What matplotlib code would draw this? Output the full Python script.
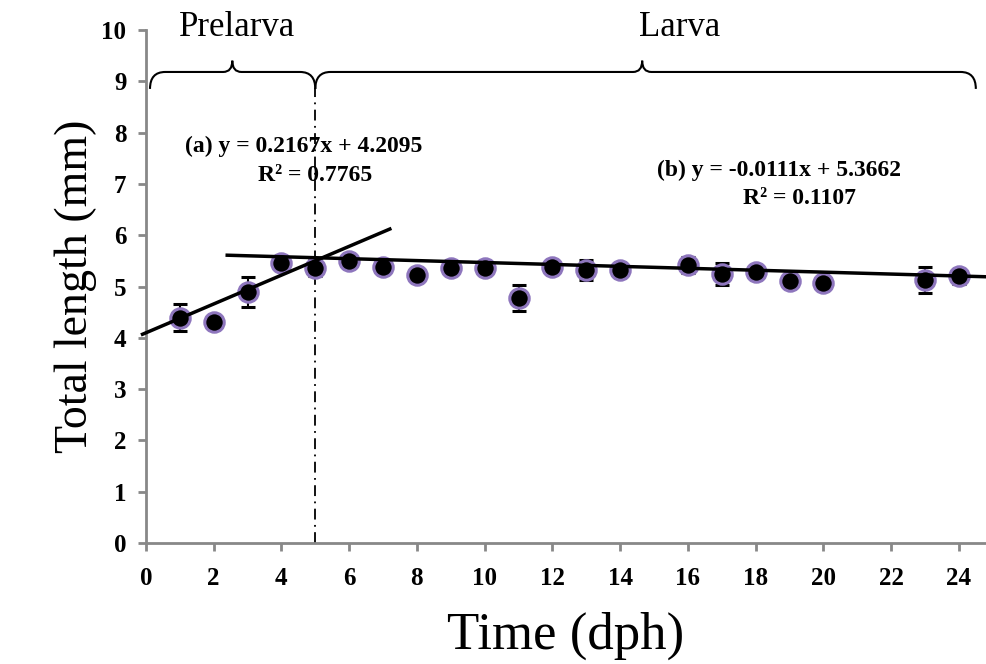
import numpy as np
import matplotlib.pyplot as plt
from matplotlib.path import Path
from matplotlib.patches import PathPatch

# mean total length per day (dph)
days = [1, 2, 3, 4, 5, 6, 7, 8, 9, 10, 11, 12, 13, 14, 16, 17, 18, 19, 20, 23, 24]
length = [4.39, 4.31, 4.89, 5.46, 5.36, 5.50, 5.38, 5.22, 5.36, 5.36, 4.78,
          5.38, 5.32, 5.32, 5.42, 5.24, 5.28, 5.10, 5.07, 5.13, 5.20]
err = [0.26, 0.0, 0.29, 0.05, 0.15, 0.05, 0.05, 0.0, 0.05, 0.05, 0.25,
       0.05, 0.2, 0.05, 0.15, 0.22, 0.12, 0.0, 0.0, 0.25, 0.15]

# trend lines as drawn (end points)
line_a_x = [-0.1, 7.2]
line_a_y = [4.07, 6.12]
line_b_x = [2.4, 24.8]
line_b_y = [5.61, 5.19]

eq_a = ["(a) y = 0.2167x + 4.2095", "R² = 0.7765"]
eq_b = ["(b) y = -0.0111x + 5.3662", "R² = 0.1107"]

plt.rcParams['font.family'] = ['Liberation Serif', 'DejaVu Serif']

fig = plt.figure(figsize=(9.86, 6.64), dpi=100)
ax = fig.add_axes([0.148, 0.182, 0.852, 0.773])

ax.errorbar(days, length, yerr=err, fmt='o', color='black', ecolor='black',
            elinewidth=1.5, capsize=5, capthick=1.5, markersize=14,
            markerfacecolor='black', markeredgecolor='#8e76bd',
            markeredgewidth=2.2, zorder=3)

ax.plot(line_a_x, line_a_y, color='black', lw=2.5, zorder=4, clip_on=False)
ax.plot(line_b_x, line_b_y, color='black', lw=2.5, zorder=4, clip_on=False)

# stage boundary
ax.plot([5, 5], [0, 8.87], color='black', lw=1.3, linestyle=(0, (6, 3, 1, 3)))


def brace(x0, x1, xm, ybase=9.18, yend=8.85, ytip=9.4, r=0.45):
    verts = [(x0, yend), (x0, ybase), (x0 + r, ybase),
             (xm - r * 0.6, ybase),
             (xm, ybase), (xm, ytip),
             (xm, ybase), (xm + r * 0.6, ybase),
             (x1 - r, ybase),
             (x1, ybase), (x1, yend)]
    codes = [Path.MOVETO, Path.CURVE3, Path.CURVE3,
             Path.LINETO,
             Path.CURVE3, Path.CURVE3,
             Path.CURVE3, Path.CURVE3,
             Path.LINETO,
             Path.CURVE3, Path.CURVE3]
    ax.add_patch(PathPatch(Path(verts, codes), fill=False, lw=1.5,
                           edgecolor='black', clip_on=False))


brace(0.12, 5.0, 2.55)
brace(5.0, 24.5, 14.65)

ax.text(2.7, 10.05, "Prelarva", ha='center', va='center', fontsize=25)
ax.text(15.75, 10.05, "Larva", ha='center', va='center', fontsize=25)

ax.text(4.65, 7.73, eq_a[0], ha='center', va='center', fontsize=17, fontweight='bold')
ax.text(5.0, 7.16, eq_a[1], ha='center', va='center', fontsize=17, fontweight='bold')
ax.text(18.7, 7.26, eq_b[0], ha='center', va='center', fontsize=17, fontweight='bold')
ax.text(19.3, 6.72, eq_b[1], ha='center', va='center', fontsize=17, fontweight='bold')

ax.set_xlim(0, 24.8)
ax.set_ylim(0, 10)
ax.set_xticks(np.arange(0, 25, 2))
ax.set_yticks(np.arange(0, 11, 1))
ax.tick_params(axis='both', colors='#888888', width=2, length=6, direction='out',
               labelcolor='black', labelsize=18)
ax.tick_params(axis='x', pad=11)
ax.tick_params(axis='y', pad=8)
for lab in ax.get_xticklabels() + ax.get_yticklabels():
    lab.set_fontweight('bold')

for s in ['top', 'right']:
    ax.spines[s].set_visible(False)
for s in ['left', 'bottom']:
    ax.spines[s].set_color('#888888')
    ax.spines[s].set_linewidth(2)

ax.set_xlabel('Time (dph)', fontsize=38, labelpad=16)
ax.set_ylabel('Total length (mm)', fontsize=33, labelpad=3)

fig.savefig('out.png', dpi=100)
